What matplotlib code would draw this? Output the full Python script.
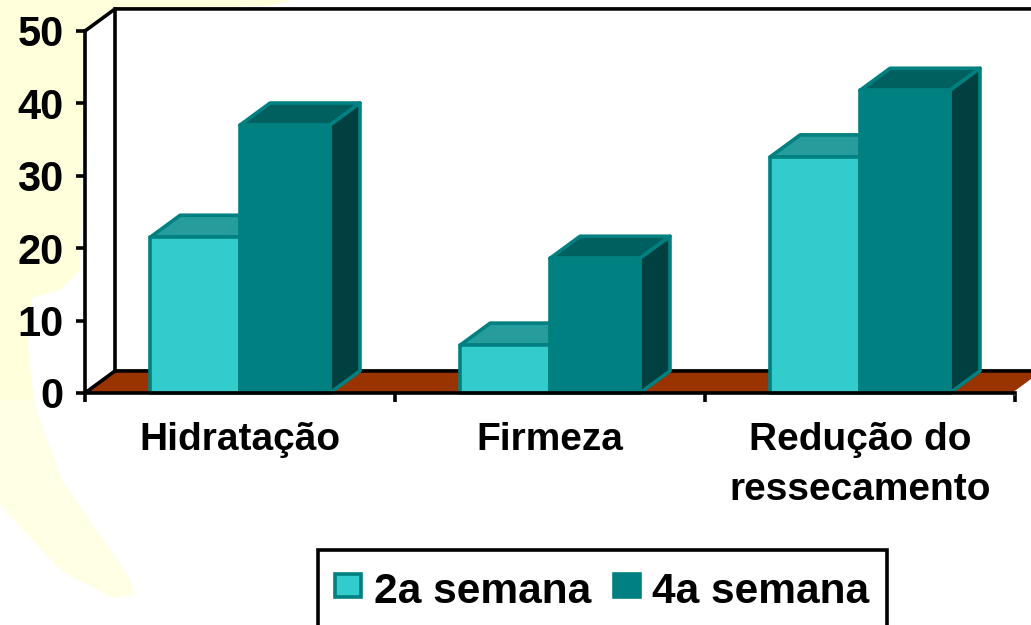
import matplotlib
matplotlib.use("Agg")
import matplotlib.pyplot as plt
from matplotlib.patches import Polygon, Rectangle

plt.rcParams['font.family'] = ['Liberation Sans', 'DejaVu Sans']
plt.rcParams['font.weight'] = 'bold'

categories = ["Hidratação", "Firmeza", "Redução do\nressecamento"]
series_names = ["2a semana", "4a semana"]
semana2 = [21.5, 6.6, 32.6]
semana4 = [37.0, 18.6, 41.8]
y_ticks = [0, 10, 20, 30, 40, 50]

W, H = 1031, 625
LIGHT = "#33CCCC"
DARK = "#008080"
LIGHT_TOP = "#269C9C"
DARK_TOP = "#006060"
DARK_SIDE = "#004040"
FLOOR = "#993300"
BLOB = "#FFFFDC"
BLOB_LOW = "#FFFFE6"

# depth of the fake 3d box, in data units
DX = 0.097
DY = 3.05
BAR_W = 0.29
LW = 2.6


def bar3d(ax, x, v, front, top, side, z):
    edge = dict(edgecolor=DARK, linewidth=LW, joinstyle='round', clip_on=False)
    ax.add_patch(Polygon([(x, v), (x + DX, v + DY), (x + BAR_W + DX, v + DY), (x + BAR_W, v)],
                         facecolor=top, zorder=z, **edge))
    ax.add_patch(Polygon([(x + BAR_W, 0), (x + BAR_W + DX, DY), (x + BAR_W + DX, v + DY), (x + BAR_W, v)],
                         facecolor=side, zorder=z, **edge))
    ax.add_patch(Rectangle((x, 0), BAR_W, v, facecolor=front, zorder=z + 0.5, **edge))


fig = plt.figure(figsize=(W / 100, H / 100), dpi=100, facecolor='white')

# page background and legend live in pixel coordinates
bg = fig.add_axes([0, 0, 1, 1])
bg.set_xlim(0, W)
bg.set_ylim(H, 0)
bg.axis('off')
bg.add_patch(Polygon([(0, 0), (292, 0), (270, 6), (115, 11), (85, 31), (80, 270), (60, 290), (32, 298), (27, 340),
                      (34, 400), (0, 400)], facecolor=BLOB, edgecolor='none'))
bg.add_patch(Polygon([(0, 400), (34, 400), (40, 420), (62, 480), (100, 535), (128, 575), (135, 595), (112, 598),
                      (60, 570), (0, 505)], facecolor=BLOB_LOW, edgecolor='none'))
bg.add_patch(Polygon([(85, 31), (115, 11), (115, 372), (85, 393)], facecolor='white', edgecolor='none'))

ax = fig.add_axes([85 / W, 1 - 393 / H, 930 / W, 362 / H])
ax.patch.set_alpha(0)
ax.set_xlim(0, 3)
ax.set_ylim(0, 50)
for s in ['top', 'right']:
    ax.spines[s].set_visible(False)
for s in ['left', 'bottom']:
    ax.spines[s].set_linewidth(LW)
    ax.spines[s].set_zorder(8)

# floor and back wall
ax.add_patch(Polygon([(0, 0), (DX, DY), (3 + DX, DY), (3, 0)], facecolor=FLOOR, edgecolor='none',
                     clip_on=False, zorder=1))
ax.plot([0, DX, 3.1], [50, 50 + DY, 50 + DY], color='black', lw=LW, clip_on=False, zorder=2,
        solid_joinstyle='miter')
ax.plot([DX, DX], [DY, 50 + DY], color='black', lw=LW, clip_on=False, zorder=2)
ax.plot([0, DX, 3 + DX], [0, DY, DY], color='black', lw=LW, clip_on=False, zorder=2,
        solid_joinstyle='miter')
ax.plot([3, 3 + DX], [0, DY], color='white', lw=LW, clip_on=False, zorder=2)

for i in range(len(categories)):
    bar3d(ax, i + 0.21, semana2[i], LIGHT, LIGHT_TOP, LIGHT, 3)
    bar3d(ax, i + 0.21 + BAR_W, semana4[i], DARK, DARK_TOP, DARK_SIDE, 5)

ax.set_yticks(y_ticks)
ax.set_xticks([0, 1, 2, 3])
ax.set_xticklabels([])
ax.set_xticks([0.5, 1.5, 2.5], categories, minor=True, fontsize=28, fontweight='bold', linespacing=1.5)
ax.tick_params(axis='x', which='minor', length=0, pad=21)
ax.tick_params(axis='x', which='major', length=6.5, width=LW)
ax.tick_params(axis='y', length=6.5, width=LW, labelsize=30, pad=9)

# legend box runs off the bottom of the picture
bg2 = fig.add_axes([0, 0, 1, 1])
bg2.set_xlim(0, W)
bg2.set_ylim(H, 0)
bg2.axis('off')
bg2.add_patch(Rectangle((318, 550), 569, 90, facecolor='white', edgecolor='black', linewidth=LW))
for x, c, name, tx in zip([335, 614], [LIGHT, DARK], series_names, [374, 652]):
    bg2.add_patch(Rectangle((x, 574), 26, 23, facecolor=c, edgecolor=DARK, linewidth=LW))
    bg2.text(tx, 603, name, fontsize=30.6, fontweight='bold', va='baseline', ha='left')

fig.savefig("out.png", dpi=100)
